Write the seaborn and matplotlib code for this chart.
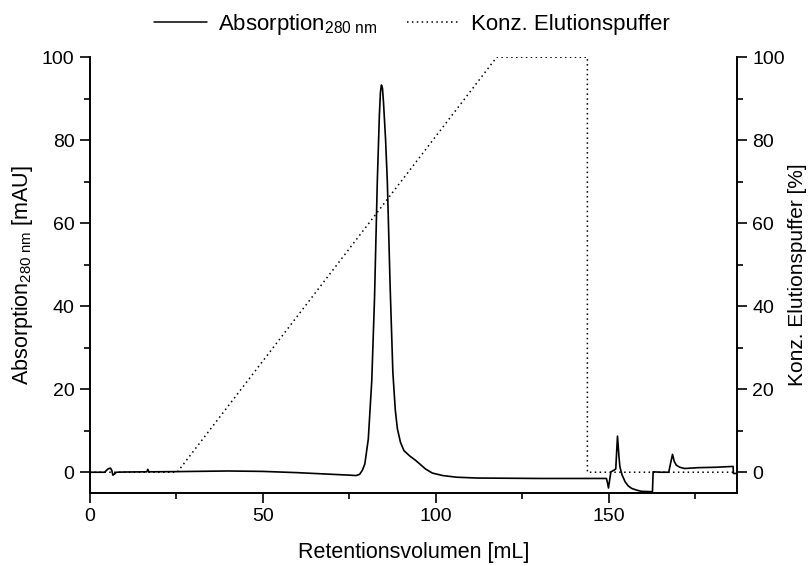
import matplotlib
matplotlib.use("Agg")
import matplotlib.pyplot as plt
import seaborn as sns
import pandas as pd
from matplotlib.ticker import MultipleLocator
from matplotlib.lines import Line2D

# Absorption trace (mL, mAU)
abs_x = [0, 4.3, 5.3, 6.0, 6.4, 6.7, 7.2, 7.7, 10, 16.5, 16.8, 17.1, 25, 40, 50, 60, 70, 75, 77,
         78, 78.8, 79.5, 80.5, 81.5, 82.3, 83.1, 83.7, 84.0, 84.3, 84.6, 84.9, 85.5, 86.0, 86.8,
         87.6, 88.3, 88.9, 89.8, 90.8, 92.5, 94.1, 95.5, 97, 99, 102, 106, 112, 130, 149.3,
         149.6, 149.9, 150.3, 150.6, 151.5, 152.0, 152.5, 152.9, 153.2, 153.8, 154.7, 155.6,
         156.6, 158, 159.4, 162.6, 162.8, 165, 167.3, 167.8, 168.4, 168.9, 169.5, 170.5,
         171.9, 175.8, 181, 185.9, 186.0, 187]
abs_y = [0, 0, 0.8, 1.0, 0.4, -0.7, -0.4, 0, 0.05, 0.1, 0.7, 0.1, 0.15, 0.3, 0.2, -0.1, -0.5, -0.7, -0.8,
         -0.5, 0.5, 2, 8, 22, 42, 70, 86, 91.5, 93.3, 92.5, 89, 80, 70, 45,
         24, 15, 10.5, 7.2, 5.2, 3.9, 2.9, 1.9, 0.8, -0.2, -0.8, -1.2, -1.4, -1.5, -1.5,
         -2.5, -3.8, -1.5, 0.1, 0.5, 0.8, 8.7, 4.0, 1.3, -0.6, -2.3, -3.3,
         -3.9, -4.3, -4.6, -4.7, 0.1, 0.0, 0.0, 2.0, 4.3, 2.6, 1.7, 1.2,
         0.9, 1.1, 1.2, 1.4, -0.3, -0.3]

# Elution buffer gradient (mL, %)
buf_x = [0, 25.3, 117.6, 143.8, 143.8, 187]
buf_y = [0, 0, 100, 100, 0, 0]

x_label = "Retentionsvolumen [mL]"
y_label = r"Absorption$_{280\ nm}$ [mAU]"
y2_label = "Konz. Elutionspuffer [%]"
legend_labels = [r"Absorption$_{280\ nm}$", "Konz. Elutionspuffer"]

sns.set_style("ticks")
plt.rcParams["font.family"] = ["Liberation Sans", "DejaVu Sans"]
plt.rcParams["mathtext.default"] = "regular"
plt.rcParams["mathtext.fontset"] = "custom"
plt.rcParams["mathtext.rm"] = "Liberation Sans"
plt.rcParams["mathtext.it"] = "Liberation Sans"
plt.rcParams["text.color"] = "black"
plt.rcParams["axes.labelcolor"] = "black"
plt.rcParams["xtick.color"] = "black"
plt.rcParams["ytick.color"] = "black"

df_abs = pd.DataFrame({"x": abs_x, "y": abs_y})
df_buf = pd.DataFrame({"x": buf_x, "y": buf_y})

fig = plt.figure(figsize=(8.08, 5.66), dpi=100)
ax = fig.add_axes([0.111, 0.129, 0.801, 0.770])
ax2 = ax.twinx()

sns.lineplot(data=df_abs, x="x", y="y", ax=ax, color="black", linewidth=1.2, sort=False,
             estimator=None)
sns.lineplot(data=df_buf, x="x", y="y", ax=ax2, color="black", linewidth=1.1, sort=False,
             estimator=None, linestyle=(0, (1, 2.2)))

for a in (ax, ax2):
    a.set_xlim(0, 187)
    a.set_ylim(-5, 100)
    a.spines["top"].set_visible(False)
    for s in ("left", "right", "bottom"):
        a.spines[s].set_linewidth(1.2)
        a.spines[s].set_color("black")
    a.yaxis.set_major_locator(MultipleLocator(20))
    a.yaxis.set_minor_locator(MultipleLocator(10))
    a.tick_params(which="major", length=7, width=1.2, labelsize=14, direction="out",
                  color="black", labelcolor="black", pad=4)
    a.tick_params(which="minor", length=4, width=1.2, direction="out", color="black")

ax.spines["right"].set_visible(True)
ax2.spines["left"].set_visible(True)
ax.xaxis.set_major_locator(MultipleLocator(50))
ax.xaxis.set_minor_locator(MultipleLocator(25))

ax.set_xlabel(x_label, fontsize=15.5, labelpad=12, color="black")
ax.set_ylabel(y_label, fontsize=15.5, labelpad=5, color="black")
ax2.set_ylabel(y2_label, fontsize=15, labelpad=2, color="black")

handles = [Line2D([], [], color="black", linewidth=1.1),
           Line2D([], [], color="black", linewidth=1.1, linestyle=(0, (1, 2.2)))]
fig.legend(handles, legend_labels, loc="upper center", bbox_to_anchor=(0.51, 1.015), ncol=2,
           frameon=False, fontsize=16, handlelength=2.4, columnspacing=1.3, handletextpad=0.5)

fig.savefig("out.png", dpi=100)
